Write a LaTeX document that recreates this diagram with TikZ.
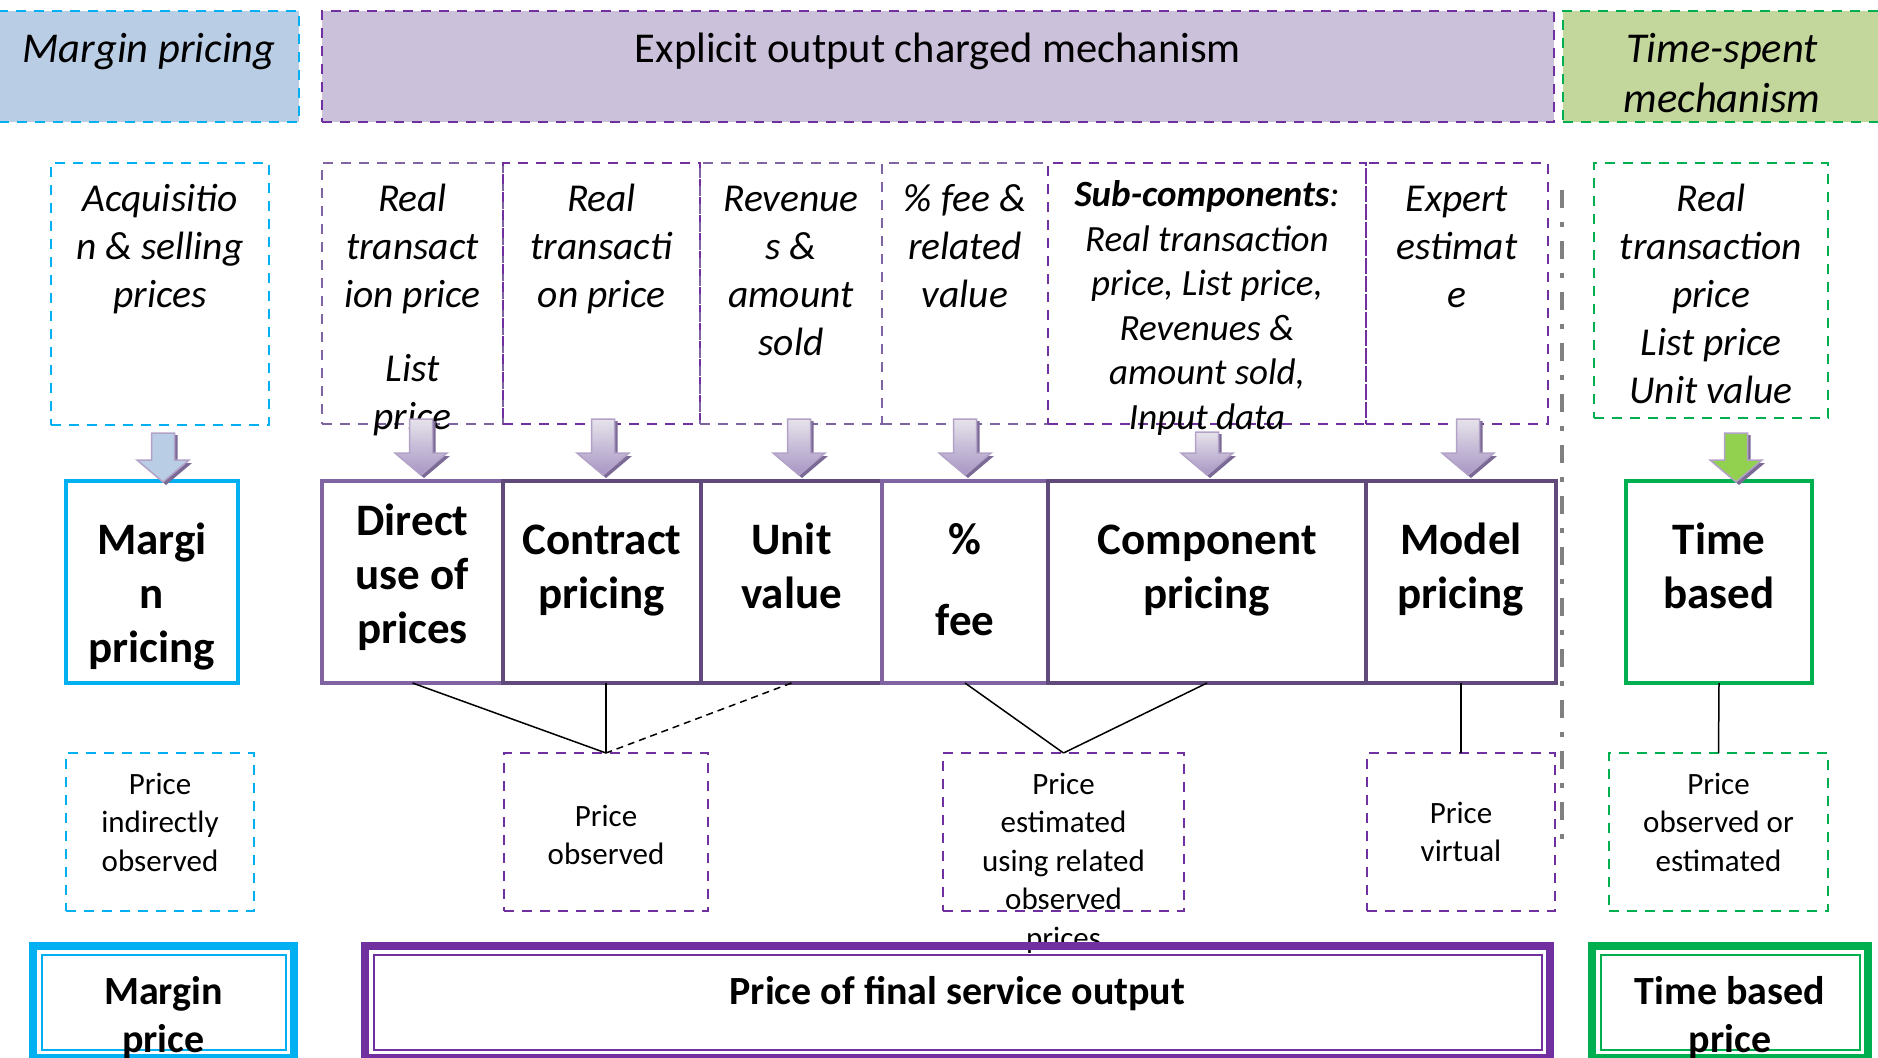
\documentclass[tikz,border=0pt]{standalone}
\usepackage{fontspec}
\setmainfont{Carlito}
\usetikzlibrary{positioning}

\definecolor{cyanline}{HTML}{00B0F0}
\definecolor{violet}{HTML}{7030A0}
\definecolor{purpgray}{HTML}{8064A2}
\definecolor{purpdark}{HTML}{604A7B}
\definecolor{greenline}{HTML}{00B050}
\definecolor{hdrblue}{HTML}{B9CDE5}
\definecolor{hdrpurp}{HTML}{CCC1DA}
\definecolor{hdrgreen}{HTML}{C3D69B}
\definecolor{arrowline}{HTML}{B3A2C7}
\definecolor{arrowtop}{HTML}{E6E3EB}
\definecolor{arrowbot}{HTML}{A795C4}
\definecolor{arrowshadow}{HTML}{7B6A96}
\definecolor{arrowgreen}{HTML}{92D050}
\definecolor{sepgray}{HTML}{808080}

% block arrow: x, top, tip, fill style
\newcommand{\pricearrow}[4]{%
  \fill[arrowshadow] (#1-11.5+3,#2+2) -- (#1+11.5+3,#2+2) -- (#1+11.5+3,#3-22+3) -- (#1+26+3,#3-22+3)
    -- (#1+3,#3+3) -- (#1-26+3,#3-22+3) -- (#1-11.5+3,#3-22+3) -- cycle;
  \draw[arrowline, line width=1.5pt, #4] (#1-11.5,#2) -- (#1+11.5,#2) -- (#1+11.5,#3-22) -- (#1+26,#3-22)
    -- (#1,#3) -- (#1-26,#3-22) -- (#1-11.5,#3-22) -- cycle;
}

\tikzset{
  hdr/.style={draw, line width=2.5pt, dash pattern=on 10pt off 8pt, anchor=north west, inner sep=0pt, outer sep=0pt, minimum height=111pt},
  inbox/.style={draw, line width=2.7pt, dash pattern=on 10pt off 8pt, anchor=north west, inner sep=0pt, outer sep=0pt, minimum height=261pt},
  outbox/.style={inbox, minimum height=158pt},
  method/.style={draw, line width=4pt, anchor=north west, inner sep=0pt, outer sep=0pt, minimum height=202pt},
  final/.style={draw, line width=8pt, anchor=north west, inner sep=0pt, outer sep=0pt, minimum height=112pt},
  txt/.style={anchor=north, inner sep=0pt, align=center},
  hdrtxt/.style={txt, font=\fontsize{42.5}{50}\selectfont},
  hdrit/.style={txt, font=\fontsize{42.5}{50}\selectfont\itshape},
  intxt/.style={txt, font=\fontsize{39.5}{48}\selectfont\itshape},
  subtxt/.style={txt, font=\fontsize{37}{44.5}\selectfont\itshape},
  mtxt/.style={txt, font=\fontsize{45}{54}\selectfont\bfseries},
  outtxt/.style={txt, font=\fontsize{31}{38.5}\selectfont},
  fintxt/.style={txt, font=\fontsize{40}{48}\selectfont\bfseries},
  link/.style={line width=1.5pt},
  purparrow/.style={top color=arrowtop, bottom color=arrowbot},
  bluearrow/.style={fill=hdrblue},
  greenarrow/.style={fill=arrowgreen},
  sepline/.style={line width=4.5pt, draw=sepgray, dash pattern=on 18pt off 14pt on 5pt off 14pt}
}

\begin{document}
\begin{tikzpicture}[x=1pt, y=-1pt]
  \useasboundingbox (0,0) rectangle (1878,1057);
  \clip (0,0) rectangle (1878,1057);

  % Headers
  \node[hdr, draw=cyanline, fill=hdrblue, minimum width=300pt] (mh) at (-1,11) {};
  \node[hdr, draw=violet, fill=hdrpurp, minimum width=1232pt] (eh) at (322,11) {};
  \node[hdr, draw=greenline, fill=hdrgreen, minimum width=318pt] (th) at (1563,11) {};
  \node[hdrit, below=16pt of mh.north] (mht) {\strut Margin pricing};
  \node[hdrtxt, below=16pt of eh.north] (eht) {\strut Explicit output charged mechanism};
  \node[hdrit, below=16pt of th.north] (tht) {\strut Time-spent\\mechanism};

  % Input boxes
  \node[inbox, draw=cyanline, minimum width=218pt, minimum height=262pt] (mi) at (51,163) {};
  \node[inbox, draw=purpgray, minimum width=181pt] (di) at (322,163) {};
  \node[inbox, draw=violet, minimum width=197pt, right=0pt of di] (ci) {};
  \node[inbox, draw=purpgray, minimum width=182pt, right=0pt of ci] (ui) {};
  \node[inbox, draw=purpgray, minimum width=166pt, right=0pt of ui] (fi) {};
  \node[inbox, draw=violet, minimum width=318pt, right=0pt of fi] (ki) {};
  \node[inbox, draw=violet, minimum width=182pt, right=0pt of ki] (xi) {};
  \node[inbox, draw=greenline, minimum width=234pt, minimum height=255pt] (ti) at (1594,163) {};

  \node[intxt, below=15pt of mi.north] (mit) {\strut Acquisitio\\n \& selling\\prices};
  \node[intxt, below=15pt of di.north] (dit) {\strut Real\\transact\\ion price\\[26pt]List\\price};
  \node[intxt, below=15pt of ci.north] (cit) {\strut Real\\transacti\\on price};
  \node[intxt, below=15pt of ui.north] (uit) {\strut Revenue\\s \&\\amount\\sold};
  \node[intxt, below=15pt of fi.north] (fit) {\strut \% fee \&\\related\\value};
  \node[subtxt, below=12.5pt of ki.north] (kit) {\strut\textbf{Sub-components}:\\Real transaction\\price, List price,\\Revenues \&\\amount sold,\\Input data};
  \node[intxt, below=15pt of xi.north] (xit) {\strut Expert\\estimat\\e};
  \node[intxt, below=15pt of ti.north] (tit) {\strut Real\\transaction\\price\\List price\\Unit value};

  % Methods
  \node[method, draw=cyanline, line width=4.5pt, minimum width=172pt] (mp) at (66,481) {};
  \node[method, draw=purpgray, minimum width=181pt] (dm) at (322,481) {};
  \node[method, draw=purpdark, minimum width=198pt, right=0pt of dm] (cm) {};
  \node[method, draw=purpdark, minimum width=181pt, right=0pt of cm] (um) {};
  \node[method, draw=purpgray, minimum width=166pt, right=0pt of um] (fm) {};
  \node[method, draw=purpdark, minimum width=318pt, right=0pt of fm] (km) {};
  \node[method, draw=purpdark, minimum width=190pt, right=0pt of km] (xm) {};
  \node[method, draw=greenline, minimum width=186pt] (tm) at (1626,481) {};

  \node[mtxt, below=35pt of mp.north] (mpt) {\strut Margi\\n\\pricing};
  \node[mtxt, below=16pt of dm.north] (dmt) {\strut Direct\\use of\\prices};
  \node[mtxt, below=35pt of cm.north] (cmt) {\strut Contract\\pricing};
  \node[mtxt, below=35pt of um.north] (umt) {\strut Unit\\value};
  \node[mtxt, below=35pt of fm.north] (fmt) {\strut \%\\[27pt]fee};
  \node[mtxt, below=35pt of km.north] (kmt) {\strut Component\\pricing};
  \node[mtxt, below=35pt of xm.north] (xmt) {\strut Model\\pricing};
  \node[mtxt, below=35pt of tm.north] (tmt) {\strut Time\\based};

  % Outcomes
  \node[outbox, draw=cyanline, minimum width=188pt] (mo) at (66,753) {};
  \node[outbox, draw=violet, minimum width=204pt] (po) at (504,753) {};
  \node[outbox, draw=violet, minimum width=241pt] (pe) at (943,753) {};
  \node[outbox, draw=violet, minimum width=188pt] (pv) at (1367,753) {};
  \node[outbox, draw=greenline, minimum width=219pt] (tg) at (1609,753) {};

  \node[outtxt, below=14pt of mo.north] (mot) {\strut Price\\indirectly\\observed};
  \node[outtxt, below=46pt of po.north] (pot) {\strut Price\\observed};
  \node[outtxt, below=14pt of pe.north] (pet) {\strut Price\\estimated\\using related\\observed\\prices};
  \node[outtxt, below=43pt of pv.north] (pvt) {\strut Price\\virtual};
  \node[outtxt, below=14pt of tg.north] (tgt) {\strut Price\\observed or\\estimated};

  % Links
  \draw[link] (dm.south) -- (po.north);
  \draw[link] (po.north |- cm.south) -- (po.north);
  \draw[link, dash pattern=on 7pt off 5pt] (um.south) -- (po.north);
  \draw[link] (fm.south) -- (pe.north);
  \draw[link] (km.south) -- (pe.north);
  \draw[link] (xm.south) -- (pv.north);
  \draw[link] (tm.south) -- (tg.north);

  % Final outputs
  \node[final, draw=cyanline, minimum width=261pt] (mf) at (33,946) {};
  \node[final, draw=violet, minimum width=1185pt] (pf) at (365,946) {};
  \node[final, draw=greenline, minimum width=276pt] (tf) at (1592,946) {};
  \draw[cyanline, line width=2pt] ([shift={(8.5pt,-8.5pt)}]mf.north west) rectangle ([shift={(-8.5pt,8.5pt)}]mf.south east);
  \draw[violet, line width=2pt] ([shift={(8.5pt,-8.5pt)}]pf.north west) rectangle ([shift={(-8.5pt,8.5pt)}]pf.south east);
  \draw[greenline, line width=2pt] ([shift={(8.5pt,-8.5pt)}]tf.north west) rectangle ([shift={(-8.5pt,8.5pt)}]tf.south east);
  \node[fintxt, below=25pt of mf.north] (mft) {\strut Margin\\price};
  \node[fintxt, below=25pt of pf.north] (pft) {\strut Price of final service output};
  \node[fintxt, below=25pt of tf.north] (tft) {\strut Time based\\price};

  % Block arrows
  \pricearrow{163}{433}{482}{bluearrow}
  \pricearrow{421}{419}{475}{purparrow}
  \pricearrow{603}{419}{475}{purparrow}
  \pricearrow{799}{419}{475}{purparrow}
  \pricearrow{965}{419}{475}{purparrow}
  \pricearrow{1207}{432}{475}{purparrow}
  \pricearrow{1468}{419}{475}{purparrow}
  \pricearrow{1736}{433}{482}{greenarrow}

  % Separator
  \draw[sepline] (1562,190) -- (1562,845);
\end{tikzpicture}
\end{document}
